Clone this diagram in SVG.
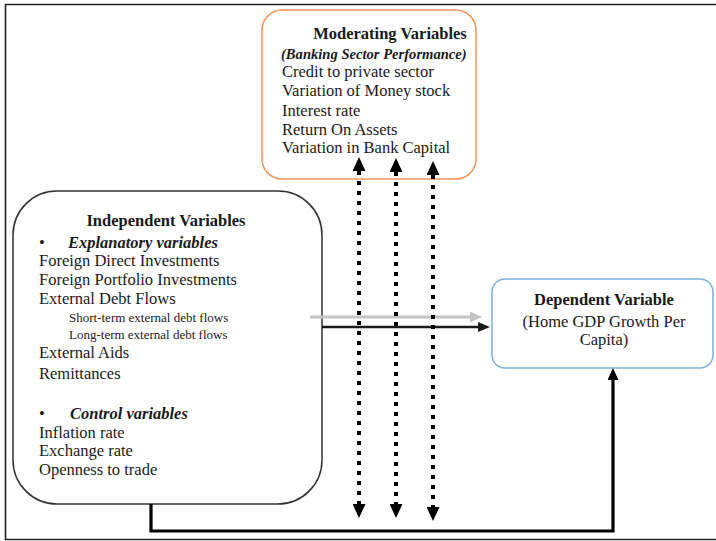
<svg xmlns="http://www.w3.org/2000/svg" width="716" height="541" viewBox="0 0 716 541">
  <style>
    .t { font-family: "Liberation Serif", "Times New Roman", serif; font-size: 16.5px; fill: #1a1a1a; }
    .b { font-weight: bold; }
    .bi { font-weight: bold; font-style: italic; }
    .sm { font-size: 13px; }
    .mid { text-anchor: middle; }
    .dots { stroke: #000; stroke-width: 4; stroke-dasharray: 4 6; fill: none; }
  </style>
  <defs>
    <marker id="headDot" markerUnits="userSpaceOnUse" viewBox="0 0 14 13" markerWidth="14" markerHeight="13" refX="0" refY="6.5" orient="auto-start-reverse">
      <path d="M0,0 L14,6.5 L0,13 z" fill="#000"/>
    </marker>
    <marker id="headBlack" markerUnits="userSpaceOnUse" viewBox="0 0 12 10" markerWidth="12" markerHeight="10" refX="0" refY="5" orient="auto">
      <path d="M0,0 L12,5 L0,10 z" fill="#1a1a1a"/>
    </marker>
    <marker id="headGray" markerUnits="userSpaceOnUse" viewBox="0 0 12 11" markerWidth="12" markerHeight="11" refX="0" refY="5.5" orient="auto">
      <path d="M0,0 L12,5.5 L0,11 z" fill="#c4c4c4"/>
    </marker>
    <marker id="headUp" markerUnits="userSpaceOnUse" viewBox="0 0 12 11" markerWidth="12" markerHeight="11" refX="0" refY="5.5" orient="auto">
      <path d="M0,0 L12,5.5 L0,11 z" fill="#000"/>
    </marker>
  </defs>

  <rect width="716" height="541" fill="#fff"/>

  <!-- page frame (right side runs off the page) -->
  <path d="M716,4.5 H5.5 V539.5 H716" fill="none" stroke="#222" stroke-width="1.6"/>

  <!-- moderating variables -->
  <g id="moderating">
    <rect x="262" y="10" width="214" height="169" rx="20" ry="20" fill="#fff" stroke="#f0965a" stroke-width="1.5"/>
    <text class="t b mid" x="390" y="39">Moderating Variables</text>
    <text class="t bi" x="281" y="58.5" style="font-size:14.6px">(Banking Sector Performance)</text>
    <text class="t" x="282" y="77">Credit to private sector</text>
    <text class="t" x="282" y="96">Variation of Money stock</text>
    <text class="t" x="282" y="116">Interest rate</text>
    <text class="t" x="282" y="135">Return On Assets</text>
    <text class="t" x="282" y="153">Variation in Bank Capital</text>
  </g>

  <!-- independent variables -->
  <g id="independent">
    <rect x="13" y="191" width="309" height="313" rx="44" ry="44" fill="#fff" stroke="#333" stroke-width="1.5"/>
    <text class="t b mid" x="166" y="226">Independent Variables</text>
    <text class="t" x="39" y="248">•</text>
    <text class="t bi" x="68" y="248">Explanatory variables</text>
    <text class="t" x="39" y="266">Foreign Direct Investments</text>
    <text class="t" x="39" y="285">Foreign Portfolio Investments</text>
    <text class="t" x="39" y="304">External Debt Flows</text>
    <text class="t sm" x="69" y="322">Short-term external debt flows</text>
    <text class="t sm" x="69" y="339">Long-term external debt flows</text>
    <text class="t" x="39" y="358">External Aids</text>
    <text class="t" x="39" y="379">Remittances</text>
    <text class="t" x="39" y="419">•</text>
    <text class="t bi" x="70" y="419">Control variables</text>
    <text class="t" x="39" y="438">Inflation rate</text>
    <text class="t" x="39" y="456">Exchange rate</text>
    <text class="t" x="39" y="475">Openness to trade</text>
  </g>

  <!-- dependent variable -->
  <g id="dependent">
    <rect x="492" y="279" width="221" height="89" rx="13" ry="13" fill="#fff" stroke="#7fb0dc" stroke-width="1.5"/>
    <text class="t b mid" x="604" y="305">Dependent Variable</text>
    <text class="t mid" x="604" y="327">(Home GDP Growth Per</text>
    <text class="t mid" x="604" y="345">Capita)</text>
  </g>

  <!-- connectors -->
  <g id="connectors">
    <line x1="310" y1="317" x2="470" y2="317" stroke="#c4c4c4" stroke-width="3" marker-end="url(#headGray)"/>
    <line x1="322" y1="327" x2="478" y2="327" stroke="#1a1a1a" stroke-width="2.5" marker-end="url(#headBlack)"/>
    <polyline points="151,504 151,531 613,531 613,380" fill="none" stroke="#000" stroke-width="3.2" marker-end="url(#headUp)"/>
    <line class="dots" x1="359" y1="171" x2="359" y2="504" marker-start="url(#headDot)" marker-end="url(#headDot)"/>
    <line class="dots" x1="396" y1="172" x2="396" y2="504" marker-start="url(#headDot)" marker-end="url(#headDot)"/>
    <line class="dots" x1="433" y1="175" x2="433" y2="507" marker-start="url(#headDot)" marker-end="url(#headDot)"/>
  </g>
</svg>
